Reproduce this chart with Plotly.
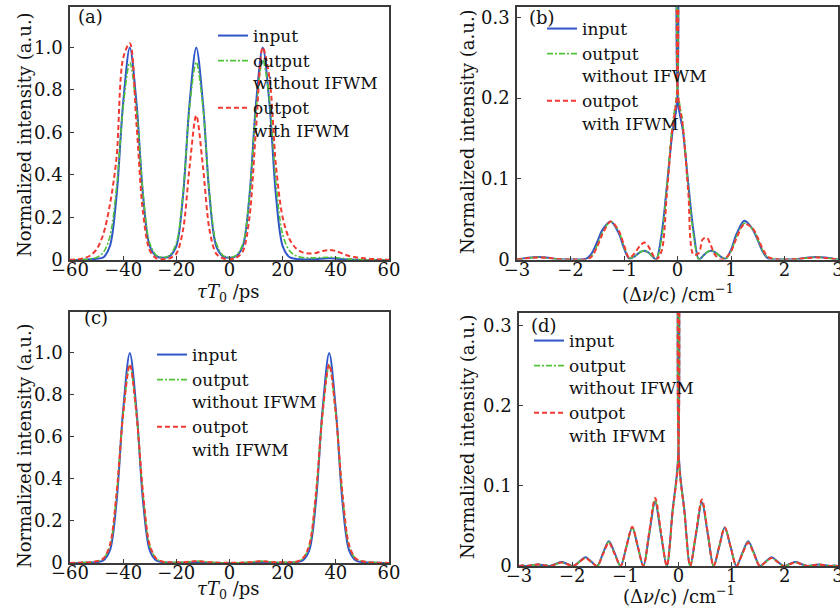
import plotly.graph_objects as go

# ---------------- data ----------------
# time axis (ps) for panels (a) and (c)
t_ps = [-60, -57.5, -55, -52.5, -50, -47.5, -45, -42.5, -40, -37.5, -35, -32.5, -30,
        -27.5, -25, -22.5, -20, -17.5, -15, -12.5, -10, -7.5, -5, -2.5, 0,
        2.5, 5, 7.5, 10, 12.5, 15, 17.5, 20, 22.5, 25, 27.5, 30, 32.5, 35,
        37.5, 40, 42.5, 45, 47.5, 50, 52.5, 55, 57.5, 60]

a_input = [0, 0, 0.001, 0.003, 0.006, 0.012, 0.065, 0.30, 0.74, 1.0, 0.74, 0.30, 0.065,
           0.018, 0.01, 0.018, 0.065, 0.30, 0.74, 1.0, 0.74, 0.30, 0.065, 0.018, 0.01,
           0.018, 0.065, 0.30, 0.74, 1.0, 0.74, 0.30, 0.065, 0.014, 0.005, 0.003, 0.003, 0.004, 0.006,
           0.008, 0.006, 0.004, 0.002, 0.001, 0, 0, 0, 0, 0]
a_out_no = [0, 0.001, 0.002, 0.005, 0.012, 0.035, 0.11, 0.34, 0.72, 0.93, 0.71, 0.31, 0.08,
            0.022, 0.012, 0.022, 0.08, 0.31, 0.72, 0.93, 0.72, 0.31, 0.08, 0.022, 0.012,
            0.022, 0.075, 0.30, 0.71, 0.94, 0.76, 0.36, 0.12, 0.045, 0.02, 0.012, 0.01, 0.01, 0.012,
            0.013, 0.012, 0.008, 0.005, 0.003, 0.002, 0.001, 0, 0, 0]
a_out_ifwm = [0.001, 0.003, 0.008, 0.02, 0.05, 0.12, 0.26, 0.48, 0.95, 1.02, 0.64, 0.22, 0.045,
              0.008, 0.003, 0.008, 0.03, 0.14, 0.44, 0.68, 0.44, 0.14, 0.03, 0.008, 0.004,
              0.01, 0.04, 0.20, 0.62, 1.0, 0.86, 0.44, 0.20, 0.10, 0.055, 0.036, 0.031, 0.033, 0.042,
              0.047, 0.042, 0.03, 0.019, 0.013, 0.009, 0.006, 0.004, 0.002, 0.001]

c_input = [0, 0, 0.001, 0.002, 0.004, 0.012, 0.06, 0.29, 0.73, 1.0, 0.73, 0.29, 0.06,
           0.012, 0.004, 0.002, 0.001, 0.001, 0.002, 0.003, 0.002, 0.001, 0, 0, 0,
           0, 0, 0.001, 0.002, 0.003, 0.002, 0.001, 0.001, 0.002, 0.004, 0.012, 0.06, 0.29, 0.73,
           1.0, 0.73, 0.29, 0.06, 0.012, 0.004, 0.002, 0.001, 0, 0]
c_out_no = [0, 0.001, 0.002, 0.004, 0.008, 0.02, 0.08, 0.32, 0.71, 0.94, 0.71, 0.32, 0.08,
            0.02, 0.006, 0.003, 0.003, 0.004, 0.006, 0.009, 0.007, 0.004, 0.002, 0.001, 0.001,
            0.001, 0.002, 0.004, 0.007, 0.009, 0.006, 0.004, 0.003, 0.003, 0.006, 0.02, 0.08, 0.32, 0.71,
            0.94, 0.71, 0.32, 0.08, 0.02, 0.008, 0.004, 0.002, 0.001, 0]
c_out_ifwm = [0, 0.001, 0.002, 0.004, 0.008, 0.021, 0.085, 0.33, 0.71, 0.945, 0.71, 0.33, 0.085,
              0.021, 0.006, 0.003, 0.003, 0.004, 0.006, 0.009, 0.007, 0.004, 0.002, 0.001, 0.001,
              0.001, 0.002, 0.004, 0.007, 0.009, 0.006, 0.004, 0.003, 0.003, 0.006, 0.021, 0.085, 0.33, 0.71,
              0.945, 0.71, 0.33, 0.085, 0.021, 0.008, 0.004, 0.002, 0.001, 0]

# spectral axis (cm^-1) for panel (b)
nu_b = [-3.0, -2.9, -2.75, -2.6, -2.45, -2.3, -2.1, -1.9, -1.7, -1.6, -1.5, -1.4, -1.25,
        -1.1, -1.0, -0.9, -0.8, -0.7, -0.62, -0.55, -0.47, -0.4, -0.3, -0.2, -0.1, -0.01,
        0.0,
        0.01, 0.1, 0.2, 0.3, 0.4, 0.47, 0.55, 0.62, 0.7, 0.8, 0.9, 1.0, 1.1,
        1.25, 1.4, 1.5, 1.6, 1.7, 1.9, 2.1, 2.3, 2.45, 2.6, 2.75, 2.9, 3.0]
b_input = [0, 0.001, 0.0025, 0.003, 0.0025, 0.001, 0, 0, 0.001, 0.008, 0.022, 0.037, 0.047,
           0.033, 0.014, 0.001, 0.004, 0.009, 0.011, 0.009, 0.004, 0, 0.03, 0.09, 0.155, 0.195,
           0.5,
           0.195, 0.16, 0.095, 0.035, 0, 0.004, 0.009, 0.011, 0.009, 0.004, 0.001, 0.012, 0.031,
           0.048, 0.038, 0.024, 0.009, 0.001, 0, 0, 0.001, 0.0025, 0.003, 0.0025, 0.001, 0]
b_out_no = [0, 0.001, 0.002, 0.003, 0.002, 0.001, 0, 0, 0, 0.005, 0.018, 0.034, 0.047,
            0.035, 0.016, 0.002, 0.004, 0.009, 0.011, 0.009, 0.004, 0, 0.025, 0.09, 0.165, 0.21,
            0.5,
            0.21, 0.168, 0.092, 0.03, 0, 0.004, 0.009, 0.011, 0.009, 0.004, 0.001, 0.01, 0.028,
            0.045, 0.038, 0.025, 0.01, 0.002, 0, 0, 0.001, 0.002, 0.003, 0.002, 0.001, 0]
b_out_ifwm = [0, 0.001, 0.002, 0.0025, 0.002, 0.001, 0, 0, 0, 0.004, 0.016, 0.032, 0.047,
              0.036, 0.018, 0.002, 0.008, 0.017, 0.021, 0.017, 0.007, 0, 0.01, 0.08, 0.16, 0.205,
              0.5,
              0.205, 0.165, 0.085, 0.006, 0.008, 0.025, 0.027, 0.018, 0.006, 0, 0.002, 0.01, 0.026,
              0.044, 0.039, 0.027, 0.012, 0.003, 0, 0, 0.001, 0.002, 0.0025, 0.002, 0.001, 0]

# spectral axis (cm^-1) for panel (d)
nu_d = [-3.0, -2.93, -2.86, -2.75, -2.64, -2.53, -2.42, -2.31, -2.2, -2.09, -1.98, -1.865,
        -1.75, -1.64, -1.53, -1.42, -1.31, -1.2, -1.09, -0.98, -0.87, -0.765, -0.66, -0.55,
        -0.44, -0.33, -0.22, -0.11, -0.01,
        0.0,
        0.01, 0.11, 0.22, 0.33, 0.44, 0.55, 0.66, 0.765, 0.87, 0.98, 1.09, 1.2, 1.31, 1.42,
        1.53, 1.64, 1.75, 1.865, 1.98, 2.09, 2.2, 2.31, 2.42, 2.53, 2.64, 2.75, 2.86, 2.93, 3.0]
d_input = [0, 0.0005, 0, 0.001, 0.002, 0.001, 0, 0.0025, 0.005, 0.0025, 0, 0.0055,
           0.011, 0.0055, 0, 0.016, 0.031, 0.016, 0, 0.024, 0.048, 0.024, 0, 0.04,
           0.08, 0.04, 0, 0.07, 0.133,
           0.5,
           0.133, 0.07, 0, 0.04, 0.08, 0.04, 0, 0.024, 0.048, 0.024, 0, 0.016, 0.031, 0.016,
           0, 0.0055, 0.011, 0.0055, 0, 0.0025, 0.005, 0.0025, 0, 0.001, 0.002, 0.001, 0, 0.0005, 0]
d_out_no = [0, 0.0005, 0, 0.001, 0.002, 0.001, 0, 0.0022, 0.0045, 0.0022, 0, 0.005,
            0.01, 0.005, 0, 0.015, 0.03, 0.015, 0, 0.024, 0.048, 0.024, 0, 0.041,
            0.082, 0.041, 0, 0.069, 0.131,
            0.5,
            0.131, 0.069, 0, 0.041, 0.081, 0.041, 0, 0.024, 0.048, 0.024, 0, 0.015, 0.03, 0.015,
            0, 0.005, 0.01, 0.005, 0, 0.0022, 0.0045, 0.0022, 0, 0.001, 0.002, 0.001, 0, 0.0005, 0]
d_out_ifwm = [0, 0.0005, 0, 0.001, 0.002, 0.001, 0, 0.0022, 0.0045, 0.0022, 0, 0.005,
              0.01, 0.005, 0, 0.015, 0.029, 0.015, 0, 0.024, 0.049, 0.024, 0, 0.043,
              0.085, 0.043, 0, 0.068, 0.13,
              0.5,
              0.13, 0.068, 0, 0.042, 0.083, 0.042, 0, 0.024, 0.048, 0.024, 0, 0.015, 0.029, 0.015,
              0, 0.005, 0.01, 0.005, 0, 0.0022, 0.0045, 0.0022, 0, 0.001, 0.002, 0.001, 0, 0.0005, 0]

series_names = ["input", "output<br>without IFWM", "outpot<br>with IFWM"]
time_ticks = [-60, -40, -20, 0, 20, 40, 60]
time_ticktext = ["\u221260", "\u221240", "\u221220", "0", "20", "40", "60"]
nu_ticks = [-3, -2, -1, 0, 1, 2, 3]
nu_ticktext = ["\u22123", "\u22122", "\u22121", "0", "1", "2", "3"]
int_t_ticks = [0, 0.2, 0.4, 0.6, 0.8, 1.0]
int_t_ticktext = ["0", "0.2", "0.4", "0.6", "0.8", "1.0"]
int_s_ticks = [0, 0.1, 0.2, 0.3]
int_s_ticktext = ["0", "0.1", "0.2", "0.3"]

# ---------------- styling ----------------
W, H = 840, 613
FONT = "DejaVu Serif"
styles = [
    dict(color="#2f55c8", width=2.0, dash="solid"),
    dict(color="#52c23a", width=1.6, dash="6px,2px,2px,2px"),
    dict(color="#f23a32", width=2.0, dash="5px,3px"),
]

def px_x(p):
    return p / W

def px_y(p):
    return 1 - p / H

fig = go.Figure()

panels = [
    ("x", "y", "legend", t_ps, [a_input, a_out_no, a_out_ifwm]),
    ("x2", "y2", "legend2", nu_b, [b_input, b_out_no, b_out_ifwm]),
    ("x3", "y3", "legend3", t_ps, [c_input, c_out_no, c_out_ifwm]),
    ("x4", "y4", "legend4", nu_d, [d_input, d_out_no, d_out_ifwm]),
]
for xa, ya, lg, xs, ys_list in panels:
    for name, ys, st in zip(series_names, ys_list, styles):
        fig.add_trace(go.Scatter(
            x=xs, y=ys, mode="lines", name=name, xaxis=xa, yaxis=ya, legend=lg,
            line=dict(color=st["color"], width=st["width"], dash=st["dash"],
                      shape="spline", smoothing=0.9),
            showlegend=True,
        ))

# domains in pixels
dom = {
    "a": ((70, 389), (7, 260)),
    "b": ((517, 838), (7, 259.5)),
    "c": ((70, 389), (312, 563)),
    "d": ((519, 838), (313, 566)),
}

axis_common = dict(
    showline=True, mirror=True, linecolor="#3a3a3a", linewidth=1.5,
    ticks="inside", ticklen=4, tickcolor="#3a3a3a", tickwidth=1,
    showgrid=False, zeroline=False, automargin=False,
    tickfont=dict(family=FONT, size=18, color="#111"),
)

def xaxis(key, ticks, text, rng, anchor):
    (x0, x1), _ = dom[key]
    return dict(axis_common, domain=[px_x(x0), px_x(x1)], range=rng,
                tickvals=ticks, ticktext=text, anchor=anchor, ticklabelstandoff=-7,
                ticklabeloverflow="allow")

def yaxis(key, ticks, text, rng, anchor):
    _, (y0, y1) = dom[key]
    return dict(axis_common, domain=[px_y(y1), px_y(y0)], range=rng,
                tickvals=ticks, ticktext=text, anchor=anchor, ticklabelstandoff=2)

fig.update_layout(
    width=W, height=H, margin=dict(l=0, r=0, t=0, b=0, autoexpand=False),
    paper_bgcolor="white", plot_bgcolor="white",
    font=dict(family=FONT, color="#111"),
    xaxis=xaxis("a", time_ticks, time_ticktext, [-60, 60], "y"),
    yaxis=yaxis("a", int_t_ticks, int_t_ticktext, [0, 1.19], "x"),
    xaxis2=xaxis("b", nu_ticks, nu_ticktext, [-3, 3], "y2"),
    yaxis2=yaxis("b", int_s_ticks, int_s_ticktext, [0, 0.313], "x2"),
    xaxis3=xaxis("c", time_ticks, time_ticktext, [-60, 60], "y3"),
    yaxis3=yaxis("c", int_t_ticks, int_t_ticktext, [0, 1.195], "x3"),
    xaxis4=xaxis("d", nu_ticks, nu_ticktext, [-3, 3], "y4"),
    yaxis4=yaxis("d", int_s_ticks, int_s_ticktext, [0, 0.316], "x4"),
)

legend_common = dict(
    font=dict(family=FONT, size=17, color="#111"),
    bgcolor="rgba(0,0,0,0)", borderwidth=0, tracegroupgap=0,
    itemwidth=30, valign="top", xanchor="left", yanchor="top",
    itemclick=False, itemdoubleclick=False,
)
fig.update_layout(
    legend=dict(legend_common, x=px_x(213), y=px_y(18)),
    legend2=dict(legend_common, x=px_x(542), y=px_y(11)),
    legend3=dict(legend_common, x=px_x(152), y=px_y(337)),
    legend4=dict(legend_common, x=px_x(529), y=px_y(323)),
)

ann = []
def text_at(x, y, s, size=18, angle=0, xanchor="center"):
    ann.append(dict(x=px_x(x), y=px_y(y), xref="paper", yref="paper", text=s,
                    showarrow=False, xanchor=xanchor, yanchor="middle", textangle=angle,
                    font=dict(family=FONT, size=size, color="#111")))

# panel labels
text_at(76, 17, "(a)", xanchor="left")
text_at(527, 18, "(b)", xanchor="left")
text_at(82, 317, "(c)", xanchor="left")
text_at(529, 325, "(d)", xanchor="left")
# y titles
ytitle = "Normalized intensity (a.u.)"
text_at(24, 135, ytitle, angle=-90)
text_at(467, 132, ytitle, angle=-90)
text_at(24, 446, ytitle, angle=-90)
text_at(467, 437, ytitle, angle=-90)
# x titles
tt = "<i>\u03c4T</i><sub>0</sub> /ps"
nt = "(\u0394<i>\u03bd</i>/c) /cm<sup>\u22121</sup>"
text_at(229, 293, tt)
text_at(678, 293, nt)
text_at(229, 590, tt)
text_at(679, 595, nt)
fig.update_layout(annotations=ann)

fig.write_html(
    "out.html",
    config={"displayModeBar": False, "responsive": False},
    post_script="document.documentElement.style.margin='0';document.body.style.margin='0';"
                "document.body.style.overflow='hidden';",
)
